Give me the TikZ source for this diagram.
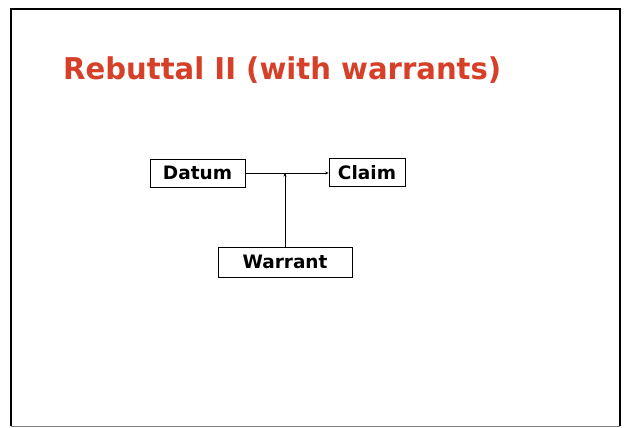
\documentclass[tikz,border=0pt]{standalone}
\usepackage{fontspec}
\setmainfont{DejaVu Sans}
\usetikzlibrary{arrows.meta}
\definecolor{titlered}{RGB}{214,64,40}
\tikzset{
  box/.style={draw, line width=0.8pt, font=\bfseries\fontsize{18.5}{20}\selectfont, inner sep=0pt, minimum height=28pt},
  conn/.style={line width=0.5pt, -{Stealth[length=3.5pt,width=3pt]}}
}
\begin{document}
\begin{tikzpicture}[x=1pt,y=-1pt]
\useasboundingbox (0,0) rectangle (624,428);
\fill[white] (0,0) rectangle (624,428);
\draw[line width=1.8pt] (11,426) -- (11,9) -- (620,9) -- (620,426);
\draw[gray, line width=1pt] (11,426) -- (620,426);
\node[anchor=base west, text=titlered, font=\bfseries\fontsize{30}{32}\selectfont, inner sep=0pt, xscale=0.97] (title) at (63,79.5) {Rebuttal II (with warrants)};
\node[box, minimum width=95pt] (datum) at (197.5,173) {Datum};
\node[box, minimum width=76pt] (claim) at (367,172.5) {Claim};
\node[box, minimum width=134pt, minimum height=30pt] (warrant) at (285,262) {Warrant};
\draw[conn] (datum.east) -- (datum.east -| claim.west);
\draw[conn] (warrant.north) -- (warrant.north |- datum.east);
\end{tikzpicture}
\end{document}
